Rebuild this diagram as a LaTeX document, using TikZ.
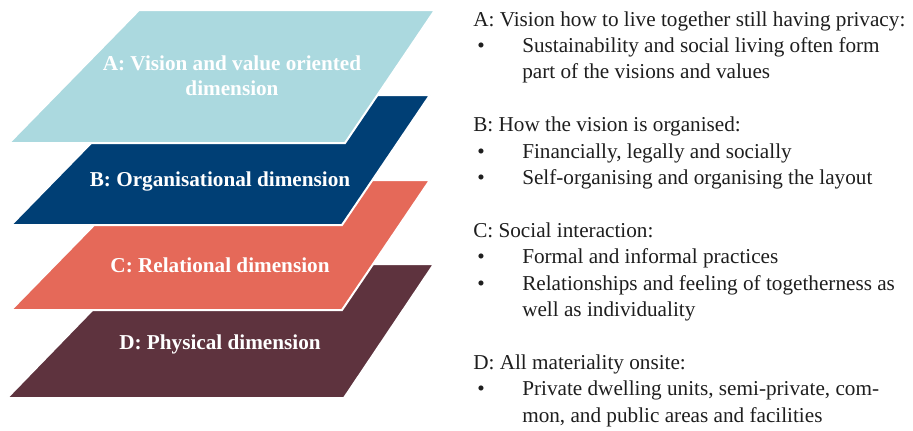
\documentclass[tikz,border=0pt]{standalone}
\usepackage{fontspec}
\setmainfont{Liberation Serif}
\definecolor{colA}{HTML}{ABD9DF}
\definecolor{colB}{HTML}{003F75}
\definecolor{colC}{HTML}{E56959}
\definecolor{colD}{HTML}{5E333E}
\definecolor{txt}{HTML}{1E1E1E}
\tikzset{
  layer/.style={draw=white, line width=1.5pt, line join=miter},
  layertext/.style={text=white, font=\fontsize{15.9}{18.75}\selectfont\bfseries, align=center, inner sep=0pt},
  rline/.style={anchor=base west, inner sep=0pt, text=txt, font=\fontsize{15.9}{19.8}\selectfont},
}
\begin{document}
\begin{tikzpicture}[x=0.75pt,y=-0.75pt]
\useasboundingbox (0,0) rectangle (913,430);
% layers, bottom first
\fill[white] (0,0) rectangle (913,430);
\draw[layer, fill=colD] (137,264) -- (434,264) -- (344,398) -- (7,398) -- cycle;
\draw[layer, fill=colC] (138,180) -- (430,180) -- (342,310) -- (11,310) -- cycle;
\draw[layer, fill=colB] (138,95) -- (430,95) -- (342,225) -- (11,225) -- cycle;
\draw[layer, fill=colA] (139,10) -- (435,10) -- (345,143) -- (9,143) -- cycle;
\node[layertext] (la) at (232,75.5) {A: Vision and value oriented\\dimension};
\node[layertext] (lb) at (220,181) {B: Organisational dimension};
\node[layertext] (lc) at (220,265) {C: Relational dimension};
\node[layertext] (ld) at (220,344) {D: Physical dimension};
% right-hand text
\def\hx{473}\def\bx{477}\def\ix{522}
\node[rline] (t0) at (\hx,26) {A: Vision how to live together still having privacy:};
\node[rline] (b1) at (\bx,52.4) {\textbullet};
\node[rline] (t1) at (\ix,52.4) {Sustainability and social living often form};
\node[rline] (t2) at (\ix,78.8) {part of the visions and values};
\node[rline] (t4) at (\hx,131.6) {B: How the vision is organised:};
\node[rline] (b5) at (\bx,158) {\textbullet};
\node[rline] (t5) at (\ix,158) {Financially, legally and socially};
\node[rline] (b6) at (\bx,184.4) {\textbullet};
\node[rline] (t6) at (\ix,184.4) {Self-organising and organising the layout};
\node[rline] (t8) at (\hx,237.2) {C: Social interaction:};
\node[rline] (b9) at (\bx,263.6) {\textbullet};
\node[rline] (t9) at (\ix,263.6) {Formal and informal practices};
\node[rline] (b10) at (\bx,290) {\textbullet};
\node[rline] (t10) at (\ix,290) {Relationships and feeling of togetherness as};
\node[rline] (t11) at (\ix,316.4) {well as individuality};
\node[rline] (t13) at (\hx,369.2) {D: All materiality onsite:};
\node[rline] (b14) at (\bx,395.6) {\textbullet};
\node[rline] (t14) at (\ix,395.6) {Private dwelling units, semi-private, com-};
\node[rline] (t15) at (\ix,422) {mon, and public areas and facilities};
\end{tikzpicture}
\end{document}
